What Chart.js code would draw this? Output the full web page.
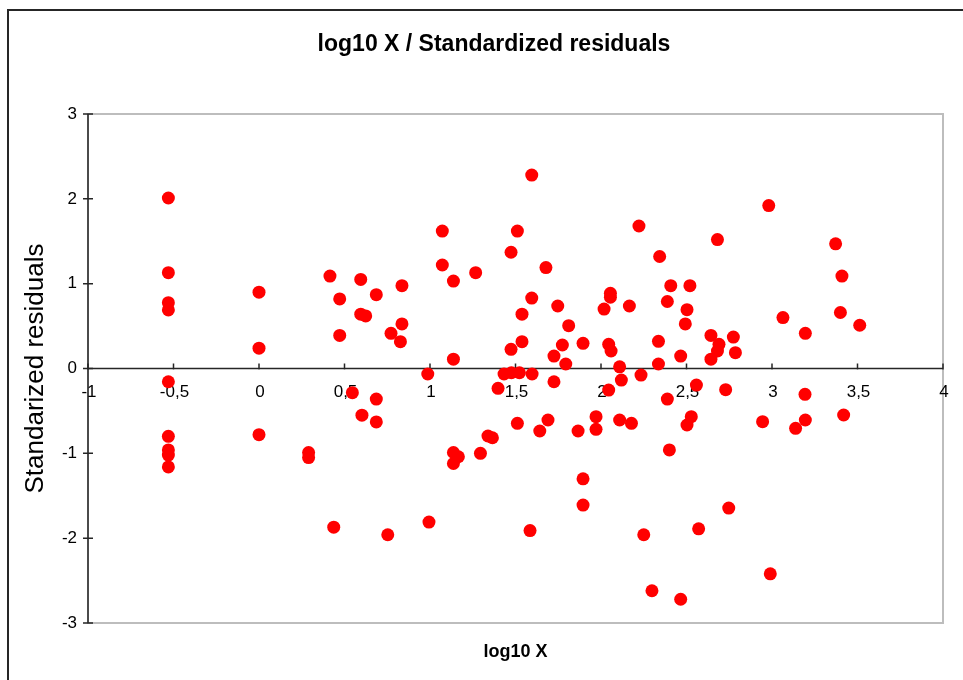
<!DOCTYPE html>
<html lang="en">
<head>
  <meta charset="UTF-8" />
  <title>log10 X / Standardized residuals</title>
  <script src="https://cdn.jsdelivr.net/npm/chart.js"></script>
  <style>
    html, body { margin: 0; padding: 0; background: #fff; }
    #wrap { width: 963px; height: 680px; }
  </style>
</head>
<body>
  <div id="wrap">
    <canvas id="residChart" width="963" height="680"></canvas>
  </div>

  <script>
    // values
    const logX = [
      -0.53, -0.53, -0.53, -0.53, -0.53, -0.53, -0.53, -0.53, -0.53,
      0, 0, 0, 0.29, 0.29, 0.415, 0.437, 0.472, 0.472, 0.546, 0.595,
      0.595, 0.602, 0.624, 0.686, 0.686, 0.686, 0.753, 0.772, 0.827, 0.836,
      0.836, 0.987, 0.994, 1.072, 1.072, 1.137, 1.137, 1.137, 1.166, 1.137,
      1.267, 1.295, 1.339, 1.365, 1.398, 1.433, 1.474, 1.474, 1.476, 1.511,
      1.511, 1.523, 1.538, 1.538, 1.585, 1.595, 1.595, 1.597, 1.642, 1.678,
      1.69, 1.725, 1.725, 1.747, 1.774, 1.794, 1.811, 1.866, 1.895, 1.895,
      1.895, 1.971, 1.971, 2.018, 2.045, 2.045, 2.055, 2.055, 2.059, 2.109,
      2.109, 2.119, 2.166, 2.178, 2.222, 2.234, 2.25, 2.298, 2.336, 2.336,
      2.343, 2.388, 2.388, 2.40, 2.408, 2.466, 2.466, 2.493, 2.503, 2.503,
      2.52, 2.528, 2.558, 2.571, 2.643, 2.643, 2.681, 2.681, 2.69, 2.729,
      2.747, 2.774, 2.786, 2.945, 2.981, 2.99, 3.064, 3.138, 3.193, 3.195,
      3.195, 3.372, 3.40, 3.409, 3.419, 3.513
    ];
    const stdResid = [
      2.01, 1.13, 0.776, 0.69, -0.156, -0.80, -0.96, -1.02, -1.16,
      0.90, 0.24, -0.78, -0.99, -1.05, 1.09, -1.87, 0.82, 0.39, -0.285, 1.05,
      0.64, -0.55, 0.62, 0.87, -0.36, -0.63, -1.96, 0.415, 0.316, 0.976,
      0.525, -0.065, -1.81, 1.62, 1.22, 1.03, 0.11, -0.99, -1.04, -1.12,
      1.13, -1.0, -0.796, -0.816, -0.234, -0.065, 1.37, 0.226, -0.05, 1.62,
      -0.646, -0.05, 0.64, 0.316, -1.91, 2.28, 0.83, -0.065, -0.737, 1.19,
      -0.607, 0.147, -0.156, 0.737, 0.277, 0.053, 0.505, -0.737, 0.297, -1.30,
      -1.61, -0.568, -0.717, 0.70, 0.285, -0.254, 0.887, 0.84, 0.206, 0.02,
      -0.607, -0.136, 0.737, -0.646, 1.68, -0.077, -1.96, -2.62, 0.32, 0.053,
      1.32, 0.79, -0.36, -0.96, 0.976, 0.147, -2.72, 0.525, 0.693, -0.666,
      0.976, -0.568, -0.195, -1.89, 0.39, 0.11, 1.52, 0.206, 0.285, -0.25,
      -1.645, 0.37, 0.187, -0.627, 1.92, -2.42, 0.60, -0.705, -0.305, 0.415,
      -0.607, 1.47, 0.66, 1.09, -0.548, 0.51
    ];

    const xTicks = [-1, -0.5, 0, 0.5, 1, 1.5, 2, 2.5, 3, 3.5, 4];
    const xTickLabels = ['-1', '-0,5', '0', '0,5', '1', '1,5', '2', '2,5', '3', '3,5', '4'];
    const yTicks = [-3, -2, -1, 0, 1, 2, 3];
    const yTickLabels = ['-3', '-2', '-1', '0', '1', '2', '3'];

    const chartTitle = 'log10 X / Standardized residuals';
    const xTitle = 'log10 X';
    const yTitle = 'Standarized residuals';

    const points = logX.map((x, i) => ({ x: x, y: stdResid[i] }));

    // frame, axes, tick labels, titles (Excel look)
    const excelAxes = {
      id: 'excelAxes',
      beforeDatasetsDraw(chart) {
        const ctx = chart.ctx;
        const a = chart.chartArea;
        const xs = chart.scales.x;
        const ys = chart.scales.y;
        ctx.save();

        // outer chart border
        ctx.strokeStyle = '#262626';
        ctx.lineWidth = 2;
        ctx.strokeRect(8, 10, 1000, 1000);

        // plot area border
        ctx.strokeStyle = '#bdbdbd';
        ctx.lineWidth = 2;
        ctx.strokeRect(a.left, a.top, a.right - a.left, a.bottom - a.top);

        ctx.strokeStyle = '#262626';
        ctx.lineWidth = 1.5;

        // y axis
        ctx.beginPath();
        ctx.moveTo(a.left, a.top);
        ctx.lineTo(a.left, a.bottom);
        yTicks.forEach(v => {
          const py = ys.getPixelForValue(v);
          ctx.moveTo(a.left - 5, py);
          ctx.lineTo(a.left + 5, py);
        });
        ctx.stroke();

        // x axis at y = 0
        const y0 = ys.getPixelForValue(0);
        ctx.beginPath();
        ctx.moveTo(a.left, y0);
        ctx.lineTo(a.right, y0);
        xTicks.forEach(v => {
          const px = xs.getPixelForValue(v);
          ctx.moveTo(px, y0 - 5);
          ctx.lineTo(px, y0 + 1);
        });
        ctx.stroke();

        ctx.fillStyle = '#000';
        ctx.font = '17px "Liberation Sans", Arial, sans-serif';

        ctx.textAlign = 'right';
        ctx.textBaseline = 'middle';
        yTicks.forEach((v, i) => {
          ctx.fillText(yTickLabels[i], a.left - 11, ys.getPixelForValue(v));
        });

        ctx.textAlign = 'center';
        xTicks.forEach((v, i) => {
          ctx.fillText(xTickLabels[i], xs.getPixelForValue(v) + 1, y0 + 24);
        });

        // titles
        ctx.font = 'bold 23px "Liberation Sans", Arial, sans-serif';
        ctx.fillText(chartTitle, 494, 45);

        ctx.font = 'bold 18px "Liberation Sans", Arial, sans-serif';
        ctx.fillText(xTitle, (a.left + a.right) / 2, 652);

        ctx.font = '26px "Liberation Sans", Arial, sans-serif';
        ctx.translate(36, (a.top + a.bottom) / 2);
        ctx.rotate(-Math.PI / 2);
        ctx.fillText(yTitle, 0, 0);

        ctx.restore();
      }
    };

    new Chart(document.getElementById('residChart'), {
      type: 'scatter',
      data: {
        datasets: [{
          label: 'Standardized residuals',
          data: points,
          backgroundColor: '#ff0000',
          borderWidth: 0,
          pointRadius: 6.5,
          pointHoverRadius: 6.5
        }]
      },
      options: {
        responsive: false,
        animation: false,
        layout: {
          padding: { left: 88, top: 114, right: 20, bottom: 57 }
        },
        scales: {
          x: { type: 'linear', min: -1, max: 4, display: false },
          y: { type: 'linear', min: -3, max: 3, display: false }
        },
        plugins: {
          legend: { display: false },
          tooltip: { enabled: false }
        }
      },
      plugins: [excelAxes]
    });
  </script>
</body>
</html>
